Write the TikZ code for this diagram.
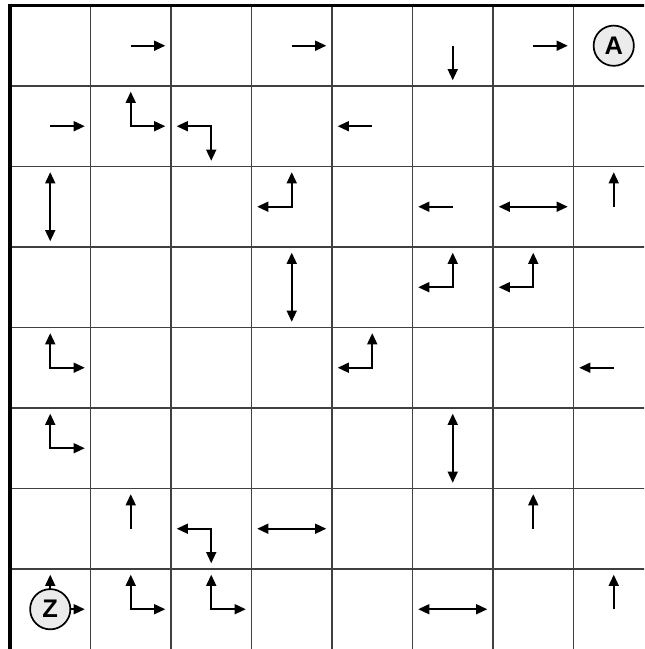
\documentclass[tikz,border=0pt]{standalone}
\usepackage{fontspec}
\setsansfont{Liberation Sans}
\usetikzlibrary{arrows.meta}

\begin{document}
\begin{tikzpicture}[
        move/.style={
            line width=0.75pt,
            -{Triangle[length=4pt,width=3.5pt]}
        },
        twoway/.style={
            line width=0.75pt,
            {Triangle[length=4pt,width=3.5pt]}-{Triangle[length=4pt,width=3.5pt]}
        },
        gridline/.style={
            draw=black!75,
            line width=0.45pt
        },
        frame/.style={
            line width=1.2pt
        },
        goal/.style={
            circle,
            draw,
            fill=black!8,
            line width=0.6pt,
            minimum size=0.5cm,
            inner sep=0pt,
            font=\sffamily\bfseries\small
        }
    ]
        \useasboundingbox (-0.124,0.006) rectangle (7.876,8.068);
        \clip (-0.124,0.006) rectangle (7.876,8.068);

        % board
        \foreach \i in {1,...,7} {
            \draw[gridline] (\i,0) -- (\i,8);
            \draw[gridline] (0,\i) -- (8,\i);
        }
        \draw[frame] (0,0) -- (0,8) -- (8,8);

        % cell centres, c<row><col> counted from the top left
        \foreach \r in {0,...,7}
            \foreach \c in {0,...,7}
                \coordinate (c\r\c) at (\c+0.5,7.5-\r);

        % row 0
        \draw[move] (c01) -- ++(0.43,0);
        \draw[move] (c03) -- ++(0.43,0);
        \draw[move] (c05) -- ++(0,-0.43);
        \draw[move] (c06) -- ++(0.43,0);
        \node[goal] (goalA) at (c07) {A};

        % row 1
        \draw[move] (c10) -- ++(0.43,0);
        \draw[twoway] ([shift={(0,0.43)}]c11) -- (c11) -- ++(0.43,0);
        \draw[twoway] ([shift={(-0.43,0)}]c12) -- (c12) -- ++(0,-0.43);
        \draw[move] (c14) -- ++(-0.43,0);

        % row 2
        \draw[twoway] ([shift={(0,0.43)}]c20) -- ([shift={(0,-0.43)}]c20);
        \draw[twoway] ([shift={(-0.43,0)}]c23) -- (c23) -- ++(0,0.43);
        \draw[move] (c25) -- ++(-0.43,0);
        \draw[twoway] ([shift={(-0.43,0)}]c26) -- ([shift={(0.43,0)}]c26);
        \draw[move] (c27) -- ++(0,0.43);

        % row 3
        \draw[twoway] ([shift={(0,0.43)}]c33) -- ([shift={(0,-0.43)}]c33);
        \draw[twoway] ([shift={(-0.43,0)}]c35) -- (c35) -- ++(0,0.43);
        \draw[twoway] ([shift={(-0.43,0)}]c36) -- (c36) -- ++(0,0.43);

        % row 4
        \draw[twoway] ([shift={(0,0.43)}]c40) -- (c40) -- ++(0.43,0);
        \draw[twoway] ([shift={(-0.43,0)}]c44) -- (c44) -- ++(0,0.43);
        \draw[move] (c47) -- ++(-0.43,0);

        % row 5
        \draw[twoway] ([shift={(0,0.43)}]c50) -- (c50) -- ++(0.43,0);
        \draw[twoway] ([shift={(0,0.43)}]c55) -- ([shift={(0,-0.43)}]c55);

        % row 6
        \draw[move] (c61) -- ++(0,0.43);
        \draw[twoway] ([shift={(-0.43,0)}]c62) -- (c62) -- ++(0,-0.43);
        \draw[twoway] ([shift={(-0.43,0)}]c63) -- ([shift={(0.43,0)}]c63);
        \draw[move] (c66) -- ++(0,0.43);

        % row 7
        \draw[twoway] ([shift={(0,0.43)}]c70) -- (c70) -- ++(0.43,0);
        \node[goal] (goalZ) at (c70) {Z};
        \draw[twoway] ([shift={(0,0.43)}]c71) -- (c71) -- ++(0.43,0);
        \draw[twoway] ([shift={(0,0.43)}]c72) -- (c72) -- ++(0.43,0);
        \draw[twoway] ([shift={(-0.43,0)}]c75) -- ([shift={(0.43,0)}]c75);
        \draw[move] (c77) -- ++(0,0.43);
    \end{tikzpicture}
\end{document}
